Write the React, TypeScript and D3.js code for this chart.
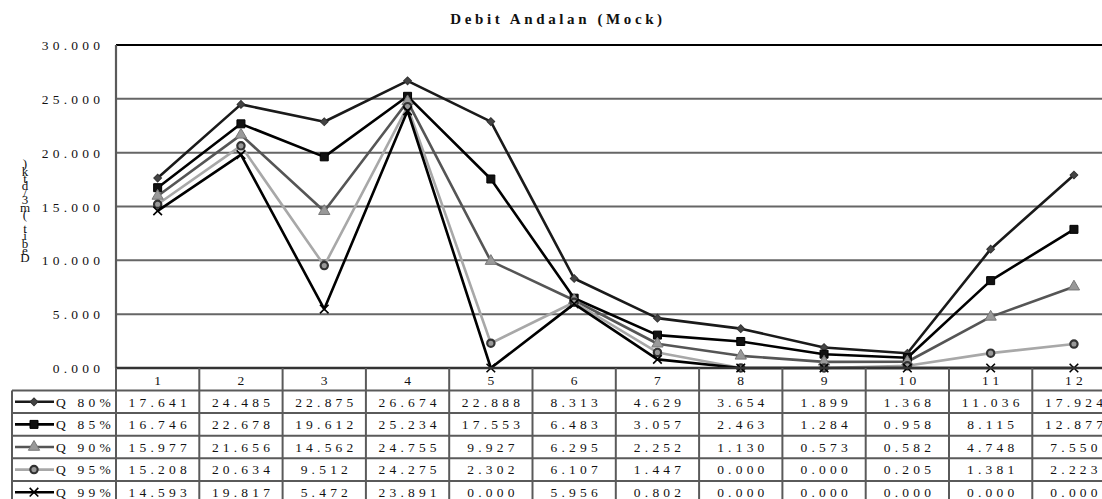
import React from "react";
import * as d3 from "d3";

const months = ["1", "2", "3", "4", "5", "6", "7", "8", "9", "10", "11", "12"];
const seriesNames = ["Q 80%", "Q 85%", "Q 90%", "Q 95%", "Q 99%"];
const q80 = [17.641, 24.485, 22.875, 26.674, 22.888, 8.313, 4.629, 3.654, 1.899, 1.368, 11.036, 17.924];
const q85 = [16.746, 22.678, 19.612, 25.234, 17.553, 6.483, 3.057, 2.463, 1.284, 0.958, 8.115, 12.877];
const q90 = [15.977, 21.656, 14.562, 24.755, 9.927, 6.295, 2.252, 1.13, 0.573, 0.582, 4.748, 7.55];
const q95 = [15.208, 20.634, 9.512, 24.275, 2.302, 6.107, 1.447, 0.0, 0.0, 0.205, 1.381, 2.223];
const q99 = [14.593, 19.817, 5.472, 23.891, 0.0, 5.956, 0.802, 0.0, 0.0, 0.0, 0.0, 0.0];
const yTicks = [0, 5, 10, 15, 20, 25, 30];
const title = "Debit Andalan (Mock)";
const yLabel = "Debit (m3/dtk)";

const seriesValues = [q80, q85, q90, q95, q99];
const styles = [
  { line: "#1a1a1a", fill: "#444", stroke: "#333", sym: d3.symbolSquare, size: 30, rot: 45, sw: 1 },
  { line: "#000", fill: "#111", stroke: "#000", sym: d3.symbolSquare, size: 64, rot: 0, sw: 1 },
  { line: "#555", fill: "#999", stroke: "#777", sym: d3.symbolTriangle, size: 55, rot: 0, sw: 1 },
  { line: "#a8a8a8", fill: "#999", stroke: "#333", sym: d3.symbolCircle, size: 42, rot: 0, sw: 2.2 },
  { line: "#000", fill: "none", stroke: "#000", sym: d3.symbolX, size: 50, rot: 0, sw: 1.6 },
];

const FONT = "'Liberation Serif', 'Times New Roman', serif";

export default function App() {
  const W = 1102, H = 499;
  const left = 116, colW = 83.3, top = 45, bottom = 368;
  const x = d3.scaleBand<string>().domain(months).range([left, left + colW * 12]).padding(0);
  const y = d3.scaleLinear().domain([0, 30]).range([bottom, top]);
  const right = left + colW * 12;
  const rowH = 22.6;
  const headerH = 22.5;
  const tableTop = bottom;
  const rowTop = (i: number) => tableTop + headerH + i * rowH;
  const legLeft = 12;
  const cx = (i: number) => (x(months[i]) as number) + x.bandwidth() / 2;
  const line = d3.line<number>().x((_, i) => cx(i)).y((v) => y(v));
  const gridColor = "#666";
  const tableColor = "#5a5a5a";
  const fs = 13.5;
  const ls = 4.2;

  const marker = (si: number, tx: number, ty: number, key: string) => {
    const st = styles[si];
    const p = d3.symbol().type(st.sym).size(st.size)();
    return (
      <path
        key={key}
        d={p || ""}
        transform={`translate(${tx},${ty}) rotate(${st.rot})`}
        fill={st.fill}
        stroke={st.stroke}
        strokeWidth={st.sw}
      />
    );
  };

  return (
    <svg width={W} height={H} style={{ position: "absolute", left: 0, top: 0, display: "block" }}>
      <rect width={W} height={H} fill="#fff" />
      <text x={556 + 2} y={24} textAnchor="middle" fontFamily={FONT} fontWeight="bold" fontSize={15} letterSpacing={3.6} fill="#111">
        {title}
      </text>
      {/* y label stacked upright chars */}
      {yLabel.split("").map((c, i) => (
        <text key={i} x={25} y={262 - i * 7.2} textAnchor="middle" fontFamily={FONT} fontSize={13} fill="#111">
          {c}
        </text>
      ))}
      {/* gridlines */}
      {yTicks.filter((t) => t > 0 && t < 30).map((t) => (
        <line key={t} x1={left} x2={right} y1={y(t)} y2={y(t)} stroke={gridColor} strokeWidth={2} />
      ))}
      <line x1={left} x2={right} y1={y(30)} y2={y(30)} stroke="#000" strokeWidth={2.2} />
      <line x1={left} x2={left} y1={top} y2={bottom} stroke={tableColor} strokeWidth={2.2} />
      {/* y tick labels */}
      {yTicks.map((t) => (
        <text key={t} x={100 + ls} y={y(t) + 5} textAnchor="end" fontFamily={FONT} fontSize={fs} letterSpacing={ls} fill="#111">
          {d3.format(".3f")(t)}
        </text>
      ))}
      {/* series lines */}
      {seriesValues.map((vals, si) => (
        <path key={si} d={line(vals) || ""} fill="none" stroke={styles[si].line} strokeWidth={2.6} strokeLinejoin="round" />
      ))}
      {/* markers */}
      {seriesValues.map((vals, si) => vals.map((v, i) => marker(si, cx(i), y(v), si + "-" + i)))}
      {/* zero axis */}
      <line x1={left} x2={right} y1={bottom} y2={bottom} stroke="#333" strokeWidth={2.4} />
      {/* table */}
      {months.map((m, i) => (
        <line key={"v" + i} x1={left + i * colW} x2={left + i * colW} y1={bottom} y2={H + 10} stroke={tableColor} strokeWidth={2} />
      ))}
      <line x1={right} x2={right} y1={bottom} y2={H + 10} stroke={tableColor} strokeWidth={2} />
      <line x1={legLeft} x2={legLeft} y1={rowTop(0)} y2={H + 10} stroke={tableColor} strokeWidth={2} />
      {[0, 1, 2, 3, 4, 5].map((i) => (
        <line key={"h" + i} x1={legLeft} x2={right} y1={rowTop(i)} y2={rowTop(i)} stroke={tableColor} strokeWidth={2} />
      ))}
      {months.map((m, i) => (
        <text key={"m" + m} x={cx(i) + ls / 2} y={tableTop + 16.5} textAnchor="middle" fontFamily={FONT} fontSize={fs} letterSpacing={ls} fill="#111">
          {m}
        </text>
      ))}
      {seriesValues.map((vals, si) => (
        <g key={"r" + si}>
          <line x1={15} x2={54} y1={rowTop(si) + rowH / 2} y2={rowTop(si) + rowH / 2} stroke={styles[si].line} strokeWidth={2.6} />
          {marker(si, 34, rowTop(si) + rowH / 2, "lm" + si)}
          <text x={56} y={rowTop(si) + 16} fontFamily={FONT} fontSize={fs} letterSpacing={ls} fill="#111">
            {seriesNames[si]}
          </text>
          {vals.map((v, i) => (
            <text key={i} x={cx(i) + ls / 2} y={rowTop(si) + 16} textAnchor="middle" fontFamily={FONT} fontSize={fs} letterSpacing={ls} fill="#111">
              {d3.format(".3f")(v)}
            </text>
          ))}
        </g>
      ))}
    </svg>
  );
}
